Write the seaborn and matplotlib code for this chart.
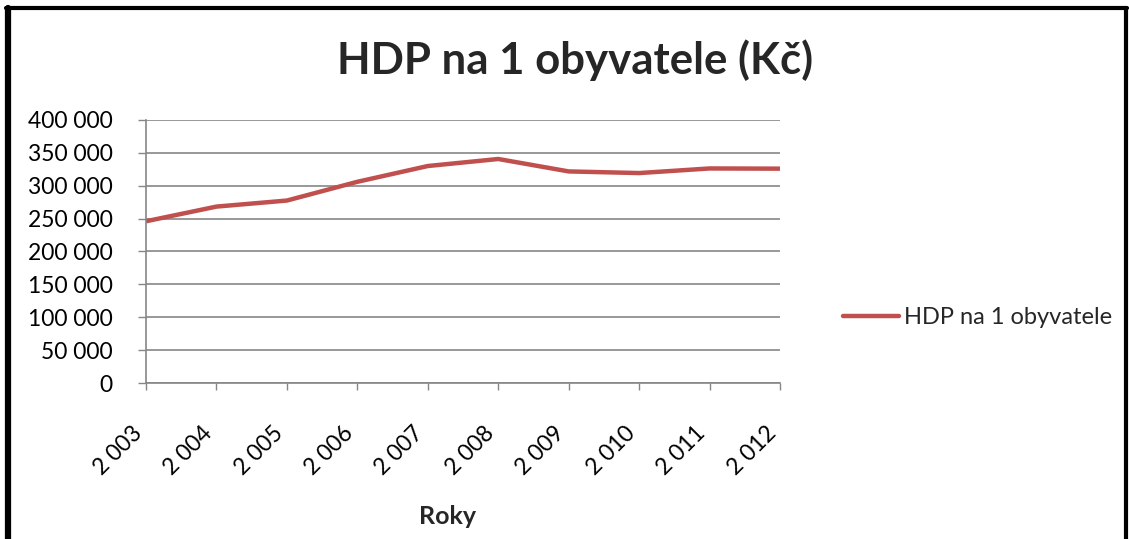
import matplotlib
matplotlib.use("Agg")
import matplotlib.pyplot as plt
import seaborn as sns
import pandas as pd
from matplotlib.lines import Line2D

years = [2003, 2004, 2005, 2006, 2007, 2008, 2009, 2010, 2011, 2012]
gdp_per_capita = [246000, 268300, 277500, 306000, 330000, 340700, 321800, 319300, 326300, 326000]
year_labels = ["2 003", "2 004", "2 005", "2 006", "2 007", "2 008", "2 009", "2 010", "2 011", "2 012"]
y_ticks = [0, 50000, 100000, 150000, 200000, 250000, 300000, 350000, 400000]
y_labels = ["0", "50 000", "100 000", "150 000", "200 000", "250 000", "300 000", "350 000", "400 000"]

sns.set_theme(style="white")
plt.rcParams['font.family'] = ['Lato', 'DejaVu Sans']

W, H = 1129, 539
fig = plt.figure(figsize=(W / 100, H / 100), dpi=100)
ax = fig.add_axes([146 / W, 1 - 383 / H, (780 - 146) / W, (383 - 120) / H])

df = pd.DataFrame({"Rok": years, "HDP": gdp_per_capita})
sns.lineplot(data=df, x="Rok", y="HDP", ax=ax, color="#C0504D", linewidth=3.2,
             solid_capstyle="butt", legend=False)

FS = 16.5
ax.set_xlim(years[0], years[-1])
ax.set_ylim(0, 400000)
ax.set_yticks(y_ticks)
ax.set_yticklabels(y_labels, fontsize=FS)
ax.set_xticks(years)
ax.set_xticklabels(year_labels, rotation=45, ha="right", va="bottom",
                   rotation_mode="anchor", fontsize=FS)
ax.yaxis.grid(True, color="#868686", linewidth=1.2)
ax.xaxis.grid(False)
for s in ["top", "right"]:
    ax.spines[s].set_visible(False)
for s in ["left", "bottom"]:
    ax.spines[s].set_color("#868686")
    ax.spines[s].set_linewidth(1.2)
ax.tick_params(axis="both", which="both", direction="out", width=1.0,
               color="#868686", labelcolor="black", bottom=True, left=True)
ax.tick_params(axis="y", length=6, pad=18)
ax.tick_params(axis="x", length=5, pad=34)
ax.set_xlabel("Roky", fontsize=18, fontweight="bold")
ax.set_ylabel("")
ax.xaxis.set_label_coords((448 - 146) / (780 - 146), -(516 - 383) / (383 - 120))
ax.xaxis.label.set_va("center")

fig.text(575 / W, 1 - 60 / H, "HDP na 1 obyvatele (Kč)", ha="center", va="center",
         fontsize=31.5, fontweight="bold")

handle = Line2D([0], [0], color="#C0504D", linewidth=3.2)
fig.legend([handle], ["HDP na 1 obyvatele"], loc="center left",
           bbox_to_anchor=(822 / W, 1 - 318 / H), frameon=False, fontsize=17,
           handlelength=2.35, handletextpad=0.22)

# cut-off caption at top
fig.text(0.0, 1 + 10 / H, "Graf 1 HDP na 1 obyvatele (Kč)", ha="left", va="center",
         fontsize=16, family="Liberation Serif")

# outer frame
fig.add_artist(Line2D([8 / W, 8 / W], [0, 1 - 8 / H], color="black", linewidth=4.5, transform=fig.transFigure))
fig.add_artist(Line2D([6 / W, 1127 / W], [1 - 8 / H, 1 - 8 / H], color="black", linewidth=3, transform=fig.transFigure))
fig.add_artist(Line2D([1126 / W, 1126 / W], [0, 1 - 8 / H], color="black", linewidth=3, transform=fig.transFigure))

fig.savefig("out.png", dpi=100)
